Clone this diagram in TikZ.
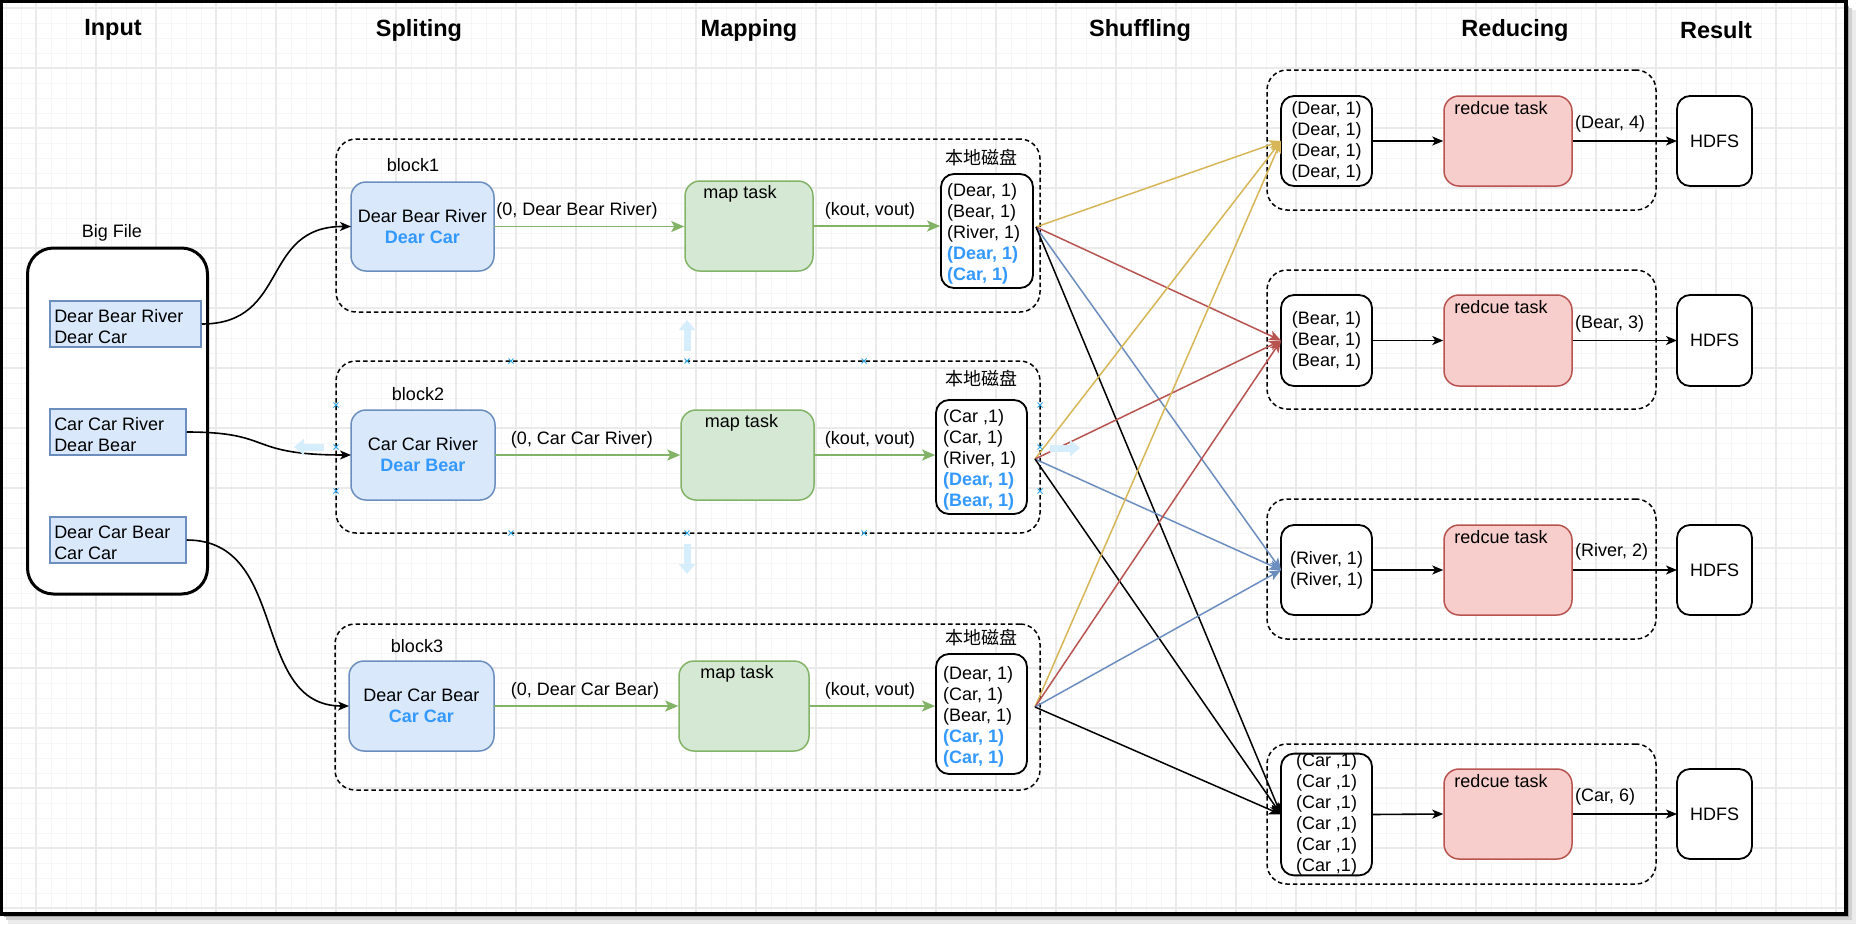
\documentclass[tikz,border=0pt]{standalone}
\usepackage{fontspec}
\setmainfont{Liberation Sans}
\newfontfamily\cjk{Noto Sans CJK SC}
\usetikzlibrary{arrows.meta}
\definecolor{blueline}{HTML}{6C8EBF}
\definecolor{bluefill}{HTML}{DAE8FC}
\definecolor{greenline}{HTML}{82B366}
\definecolor{greenfill}{HTML}{D5E8D4}
\definecolor{redline}{HTML}{B85450}
\definecolor{redfill}{HTML}{F8CECC}
\definecolor{yellowline}{HTML}{D6B656}
\definecolor{txtblue}{HTML}{3399FF}
\definecolor{gridmajor}{HTML}{EAEAEA}
\definecolor{gridminor}{HTML}{F6F6F6}
\definecolor{hint}{HTML}{D6EDFB}
\definecolor{marker}{HTML}{2CA8E8}
\begin{document}
\begin{tikzpicture}[x=1pt,y=-1pt,
  base/.style={font=\fontsize{18}{21}\selectfont, inner sep=0pt, outer sep=0pt},
  title/.style={font=\fontsize{23.5}{28}\selectfont\bfseries, inner sep=0pt},
  container/.style={draw, line width=1.5pt, dash pattern=on 4.5pt off 3pt, rounded corners=20pt, inner sep=0pt},
  splitbox/.style={base, draw=blueline, fill=bluefill, line width=1.5pt, rounded corners=15pt, align=center},
  mapbox/.style={draw=greenline, fill=greenfill, line width=1.5pt, rounded corners=15pt, inner sep=0pt},
  redbox/.style={draw=redline, fill=redfill, line width=1.5pt, rounded corners=15pt, inner sep=0pt},
  listbox/.style={draw, line width=1.8pt, rounded corners=13pt, inner sep=0pt, fill=white},
  inbox/.style={draw=blueline, fill=bluefill, line width=1.5pt, inner sep=0pt},
  bigfile/.style={draw, line width=3pt, rounded corners=26pt, fill=white, inner sep=0pt},
  arr/.style={line width=1.6pt, -{Stealth[length=11pt,width=9pt,inset=3pt]}},
  garr/.style={line width=1.8pt, draw=greenline, -{Stealth[length=13pt,width=11pt,inset=3pt]}},
  sarr/.style={line width=1.5pt, -{Stealth[length=12pt,width=10pt,inset=3pt]}},
  hintarrow/.style={draw=hint, line width=7pt, -{Triangle[length=10pt,width=16pt]}},
  mk/.style={draw=marker, line width=1pt}
]
\useasboundingbox (0,0) rectangle (1856,924);
% shadow and frame
\fill[black!8] (8,10) rectangle (1856,924);
\fill[black!18] (6,8) rectangle (1852,920);
\fill[black!35] (4,6) rectangle (1849,917);
\fill[white] (1.5,1.5) rectangle (1846,914);
\foreach \x in {6,21,...,1845} \draw[gridminor, line width=1pt] (\x,3) -- (\x,913);
\foreach \y in {8,23,...,913} \draw[gridminor, line width=1pt] (3,\y) -- (1845,\y);
\foreach \x in {36,96,...,1845} \draw[gridmajor, line width=1.2pt] (\x,3) -- (\x,913);
\foreach \y in {8,68,...,913} \draw[gridmajor, line width=1.2pt] (3,\y) -- (1845,\y);
\draw[line width=3.2pt] (1.5,1.5) rectangle (1846,914);

% titles
\node[title] (tin) at (113,30) {Input};
\node[title] (tsp) at (419,30) {Spliting};
\node[title] (tma) at (749,30) {Mapping};
\node[title] (tsh) at (1140,30) {Shuffling};
\node[title] (tre) at (1515,30) {Reducing};
\node[title] (tres) at (1716,30) {Result};

% Big file
\node[bigfile, minimum width=180, minimum height=346] (big) at (117.5,421) {};
\node[base] (bigl) at (112,233) {Big File};
\node[inbox, minimum width=151, minimum height=46] (in1) at (125.5,324) {};
\node[inbox, minimum width=136, minimum height=46] (in2) at (118,432) {};
\node[inbox, minimum width=136, minimum height=46] (in3) at (118,540) {};
\node[base, anchor=west, align=left] (in1t) at ([xshift=5pt,yshift=-2.5pt]in1.west) {Dear Bear River\\Dear Car};
\node[base, anchor=west, align=left] (in2t) at ([xshift=5pt,yshift=-2.5pt]in2.west) {Car Car River\\Dear Bear};
\node[base, anchor=west, align=left] (in3t) at ([xshift=5pt,yshift=-2.5pt]in3.west) {Dear Car Bear\\Car Car};

% block containers
\node[container, minimum width=704, minimum height=173] (b1) at (688,225.5) {};
\node[container, minimum width=704, minimum height=172] (b2) at (688,447) {};
\node[container, minimum width=705, minimum height=166] (b3) at (687.5,707) {};
\node[base] (b1l) at (413,165) {block1};
\node[base] (b2l) at (418,394) {block2};
\node[base] (b3l) at (417,646) {block3};

% split boxes
\node[splitbox, minimum width=143, minimum height=89] (s1) at (422.5,226.5) {Dear Bear River\\{\color{txtblue}\bfseries Dear Car}};
\node[splitbox, minimum width=144, minimum height=90] (s2) at (423,455) {Car Car River\\{\color{txtblue}\bfseries Dear Bear}};
\node[splitbox, minimum width=145, minimum height=90] (s3) at (421.5,706) {Dear Car Bear\\{\color{txtblue}\bfseries Car Car}};

% map boxes
\node[mapbox, minimum width=128, minimum height=90] (m1) at (749,226) {};
\node[mapbox, minimum width=133, minimum height=90] (m2) at (747.5,455) {};
\node[mapbox, minimum width=130, minimum height=90] (m3) at (744,706) {};
\node[base, anchor=north] (m1l) at ([xshift=-9pt,yshift=-5pt]m1.north) {map task};
\node[base, anchor=north] (m2l) at ([xshift=-6pt,yshift=-5pt]m2.north) {map task};
\node[base, anchor=north] (m3l) at ([xshift=-7pt,yshift=-5pt]m3.north) {map task};

% disks
\node[listbox, minimum width=92, minimum height=114] (d1) at (987,231) {};
\node[listbox, minimum width=91, minimum height=114] (d2) at (981.5,457) {};
\node[listbox, minimum width=91, minimum height=120] (d3) at (981.5,714) {};
\node[base] (d1l) at (981,158) {\cjk 本地磁盘};
\node[base] (d2l) at (981,379) {\cjk 本地磁盘};
\node[base] (d3l) at (981,638) {\cjk 本地磁盘};
\node[base, anchor=west, align=left] (d1t) at ([xshift=7pt,yshift=-3pt]d1.west) {(Dear, 1)\\(Bear, 1)\\(River, 1)\\{\color{txtblue}\bfseries(Dear, 1)}\\{\color{txtblue}\bfseries(Car, 1)}};
\node[base, anchor=west, align=left] (d2t) at ([xshift=8pt,yshift=-3pt]d2.west) {(Car ,1)\\(Car, 1)\\(River, 1)\\{\color{txtblue}\bfseries(Dear, 1)}\\{\color{txtblue}\bfseries(Bear, 1)}};
\node[base, anchor=west, align=left] (d3t) at ([xshift=8pt,yshift=-3pt]d3.west) {(Dear, 1)\\(Car, 1)\\(Bear, 1)\\{\color{txtblue}\bfseries(Car, 1)}\\{\color{txtblue}\bfseries(Car, 1)}};

% green arrows
\draw[garr] (s1.east) -- (m1.west |- s1.east);
\draw[garr] (m1.east) -- (d1.west |- m1.east);
\draw[garr] (s2.east) -- (m2.west |- s2.east);
\draw[garr] (m2.east) -- (d2.west |- m2.east);
\draw[garr] (s3.east) -- (m3.west |- s3.east);
\draw[garr] (m3.east) -- (d3.west |- m3.east);
\node[base] (e1) at (577,211) {(0, Dear Bear River)};
\node[base] (e2) at (582,440) {(0, Car Car River)};
\node[base] (e3) at (585,691) {(0, Dear Car Bear)};
\node[base] (k1) at (870,211) {(kout, vout)};
\node[base] (k2) at (870,440) {(kout, vout)};
\node[base] (k3) at (870,691) {(kout, vout)};

% input curves
\draw[arr] (in1.east) .. controls (290,324) and (260,226) .. (s1.west);
\draw[arr] (in2.east) .. controls (275,432) and (245,455) .. (s2.west);
\draw[arr] (in3.east) .. controls (290,540) and (250,706) .. (s3.west);

% reduce groups
\node[container, minimum width=389, minimum height=140] (g1) at (1461.5,140) {};
\node[container, minimum width=389, minimum height=139] (g2) at (1461.5,339.5) {};
\node[container, minimum width=389, minimum height=140] (g3) at (1461.5,569) {};
\node[container, minimum width=389, minimum height=140] (g4) at (1461.5,814) {};

\node[listbox, base, minimum width=91, minimum height=90, align=center, draw, line width=1.8pt, rounded corners=13pt, fill=white] (r1) at (1326.5,141) {(Dear, 1)\\(Dear, 1)\\(Dear, 1)\\(Dear, 1)};
\node[listbox, base, minimum width=91, minimum height=91, align=center, draw, line width=1.8pt, rounded corners=13pt, fill=white] (r2) at (1326.5,340.5) {(Bear, 1)\\(Bear, 1)\\(Bear, 1)};
\node[listbox, base, minimum width=91, minimum height=90, align=center, draw, line width=1.8pt, rounded corners=13pt, fill=white] (r3) at (1326.5,570) {(River, 1)\\(River, 1)};
\node[listbox, base, minimum width=91, minimum height=121, align=center, draw, line width=1.8pt, rounded corners=13pt, fill=white] (r4) at (1326.5,814.5) {(Car ,1)\\(Car ,1)\\(Car ,1)\\(Car ,1)\\(Car ,1)\\(Car ,1)};

\node[redbox, minimum width=128, minimum height=90] (t1) at (1508,141) {};
\node[redbox, minimum width=128, minimum height=91] (t2) at (1508,340.5) {};
\node[redbox, minimum width=128, minimum height=90] (t3) at (1508,570) {};
\node[redbox, minimum width=128, minimum height=90] (t4) at (1508,814) {};
\node[base, anchor=north] (t1l) at ([xshift=-7pt,yshift=-6pt]t1.north) {redcue task};
\node[base, anchor=north] (t2l) at ([xshift=-7pt,yshift=-6pt]t2.north) {redcue task};
\node[base, anchor=north] (t3l) at ([xshift=-7pt,yshift=-6pt]t3.north) {redcue task};
\node[base, anchor=north] (t4l) at ([xshift=-7pt,yshift=-6pt]t4.north) {redcue task};

\node[listbox, base, minimum width=75, minimum height=90] (h1) at (1714.5,141) {HDFS};
\node[listbox, base, minimum width=75, minimum height=91] (h2) at (1714.5,340.5) {HDFS};
\node[listbox, base, minimum width=75, minimum height=90] (h3) at (1714.5,570) {HDFS};
\node[listbox, base, minimum width=75, minimum height=90] (h4) at (1714.5,814) {HDFS};

\draw[arr] (r1.east) -- (t1.west);
\draw[arr] (r2.east) -- (t2.west);
\draw[arr] (r3.east) -- (t3.west);
\draw[arr] (r4.east) -- (t4.west);
\draw[arr] (t1.east) -- (h1.west);
\draw[arr] (t2.east) -- (h2.west);
\draw[arr] (t3.east) -- (h3.west);
\draw[arr] (t4.east) -- (h4.west);
\node[base, anchor=west] (o1) at (1575,124) {(Dear, 4)};
\node[base, anchor=west] (o2) at (1575,324) {(Bear, 3)};
\node[base, anchor=west] (o3) at (1575,552) {(River, 2)};
\node[base, anchor=west] (o4) at (1575,797) {(Car, 6)};

% shuffle
\coordinate (p1) at (1036,227);
\coordinate (p2) at (1035,459);
\coordinate (p3) at (1035,707);
\foreach \p in {p1,p2,p3} {
  \draw[sarr, yellowline] (\p) -- (r1.west);
  \draw[sarr, redline] (\p) -- (r2.west);
  \draw[sarr, blueline] (\p) -- (r3.west);
  \draw[sarr, black] (\p) -- (r4.west);
}

% faint editor hints
\draw[hintarrow] (687,351) -- (687,320);
\draw[hintarrow] (687,544) -- (687,574);
\draw[hintarrow] (324,447) -- (294,447);
\draw[hintarrow] (1050,448) -- (1080,448);
\foreach \mx/\my in {511/361,687/361,864/361,511/533,687/533,864/533,336/405,336/447,336/491,1040/405,1040/447,1040/491} {
  \draw[mk] (\mx-2.5,\my-2.5) -- (\mx+2.5,\my+2.5) (\mx-2.5,\my+2.5) -- (\mx+2.5,\my-2.5);
}
\end{tikzpicture}
\end{document}
